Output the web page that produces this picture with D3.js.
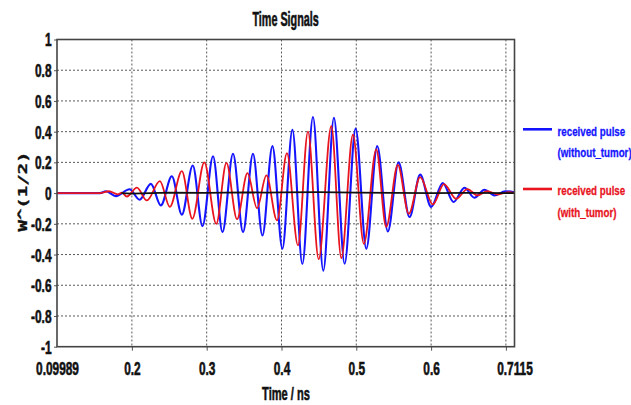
<!doctype html><html><head><style>body{margin:0;background:#fff}</style></head><body><script src='https://d3js.org/d3.v7.min.js'></script>

<script>
// Dimensions
const W = 631, H = 405;
const pLeft = 57, pRight = 514.5, pTop = 39.5, pBottom = 346.7;

// tick labels
const xLabels = [0.09989, 0.2, 0.3, 0.4, 0.5, 0.6, 0.7115];
const xGrid   = [0.2, 0.3, 0.4, 0.5, 0.6, 0.7];
const yTicks  = [-1, -0.8, -0.6, -0.4, -0.2, 0, 0.2, 0.4, 0.6, 0.8, 1];
const yGrid   = [-0.8, -0.6, -0.4, -0.2, 0.2, 0.4, 0.6, 0.8];

// received pulse without tumor (extrema)
const blue = [
  [0.0999,0],[0.1573,0],[0.1652,0.012],[0.1786,-0.02],[0.1969,0.025],[0.2103,-0.043],
  [0.2254,0.06],[0.2387,-0.08],[0.2534,0.11],[0.2668,-0.14],[0.2814,0.18],[0.2944,-0.215],
  [0.3085,0.24],[0.3211,-0.254],[0.3352,0.256],[0.3486,-0.254],[0.3619,0.256],[0.3745,-0.276],
  [0.3879,0.306],[0.4012,-0.362],[0.4146,0.412],[0.4279,-0.462],[0.4421,0.495],[0.4559,-0.505],
  [0.4701,0.49],[0.4844,-0.46],[0.4991,0.42],[0.5134,-0.362],[0.5280,0.306],[0.5422,-0.25],
  [0.5565,0.20],[0.5712,-0.156],[0.5854,0.12],[0.6001,-0.09],[0.6156,0.066],[0.6299,-0.058],
  [0.6446,0.035],[0.6579,-0.03],[0.6713,0.022],[0.6846,-0.015],[0.6993,0.012],[0.7115,0.005]
];

// received pulse with tumor
const red = [
  [0.0999,0],[0.1573,0],[0.1693,0.012],[0.1813,-0.008],[0.1866,0.003],[0.1933,-0.022],
  [0.2067,0.035],[0.2200,-0.048],[0.2374,0.078],[0.2507,-0.09],[0.2668,0.143],[0.2808,-0.167],
  [0.2968,0.2],[0.3128,-0.2],[0.3264,0.197],[0.3406,-0.17],[0.3545,0.13],[0.3673,-0.098],
  [0.3798,0.115],[0.3940,-0.178],[0.4073,0.26],[0.4220,-0.34],[0.4354,0.40],[0.4497,-0.43],
  [0.4666,0.436],[0.4800,-0.423],[0.4955,0.38],[0.5101,-0.33],[0.5267,0.284],[0.5400,-0.22],
  [0.5555,0.184],[0.5702,-0.135],[0.5854,0.104],[0.6023,-0.074],[0.6172,0.058],[0.6335,-0.037],
  [0.6486,0.026],[0.6619,-0.015],[0.6753,0.013],[0.6887,-0.009],[0.7047,0.007],[0.7115,0.002]
];

// difference signal
const diff = [
  [0.186,0],[0.2,-0.003],[0.25,0.003],[0.3,0.002],[0.35,0.005],[0.38,0.003],
  [0.4,0.005],[0.45,0.006],[0.5,0.003],[0.55,0.002],[0.6,0],[0.65,0.002],[0.7115,0]
];

const legendItems = [
  {lines: ["received pulse", "(without_tumor)"], color: "#1414ff"},
  {lines: ["received pulse", "(with_tumor)"],    color: "#e8141e"}
];

const svg = d3.select("body").append("svg")
  .attr("width", W).attr("height", H)
  .style("font-family", "'Liberation Sans', Arial, sans-serif")
  .style("font-weight", "bold");

const x = d3.scaleLinear().domain([0.09989, 0.7115]).range([pLeft, pRight]);
const y = d3.scaleLinear().domain([-1, 1]).range([pBottom, pTop]);

// grid
svg.append("g").selectAll("line").data(xGrid).join("line")
   .attr("x1", d => x(d)).attr("x2", d => x(d))
   .attr("y1", pTop).attr("y2", pBottom)
   .attr("stroke", "#5a5a5a").attr("stroke-dasharray", "2,2");
svg.append("g").selectAll("line").data(yGrid).join("line")
   .attr("x1", pLeft).attr("x2", pRight)
   .attr("y1", d => y(d)).attr("y2", d => y(d))
   .attr("stroke", "#5a5a5a").attr("stroke-dasharray", "2,2");

// tick marks
svg.append("g").attr("transform", `translate(0,${pBottom})`)
   .call(d3.axisBottom(x).tickValues(xGrid).tickFormat("").tickSize(4))
   .call(g => g.select(".domain").remove())
   .selectAll("line").attr("stroke", "#555");
svg.append("g").attr("transform", `translate(${pLeft},0)`)
   .call(d3.axisLeft(y).tickValues(yTicks).tickFormat("").tickSize(3))
   .call(g => g.select(".domain").remove())
   .selectAll("line").attr("stroke", "#555");

// x labels
const xa = svg.append("g").attr("transform", `translate(0,${pBottom})`)
   .call(d3.axisBottom(x).tickValues(xLabels).tickFormat(d => String(d)).tickSize(0));
xa.select(".domain").remove();
xa.selectAll("text")
  .attr("y", 28.5).attr("dy", null)
  .attr("transform", "scale(0.66,1)")
  .attr("font-size", 18).attr("font-family", null).attr("fill", "#111")
  .attr("stroke", "#111").attr("stroke-width", 0.6);

// y labels
const ya = svg.append("g").attr("transform", `translate(${pLeft},0)`)
   .call(d3.axisLeft(y).tickValues(yTicks).tickFormat(d => String(+d.toFixed(1))).tickSize(0));
ya.select(".domain").remove();
ya.selectAll("text")
  .attr("x", -5.5 / 0.66).attr("dy", "0.36em")
  .attr("transform", "scale(0.66,1)")
  .attr("font-size", 18).attr("font-family", null).attr("fill", "#111")
  .attr("stroke", "#111").attr("stroke-width", 0.6);

// curves
const line = d3.line().x(d => x(d[0])).y(d => y(d[1])).curve(d3.curveMonotoneX);
svg.append("path").datum(blue).attr("fill", "none")
   .attr("stroke", "#1414ff").attr("stroke-width", 2.1).attr("d", line);
svg.append("path").datum(red).attr("fill", "none")
   .attr("stroke", "#e8141e").attr("stroke-width", 1.8).attr("d", line);
svg.append("path").datum(diff).attr("fill", "none")
   .attr("stroke", "#111").attr("stroke-width", 1.8)
   .attr("d", d3.line().x(d => x(d[0])).y(d => y(d[1])));

// frame
svg.append("rect").attr("x", pLeft).attr("y", pTop)
   .attr("width", pRight - pLeft).attr("height", pBottom - pTop)
   .attr("fill", "none").attr("stroke", "#444").attr("stroke-width", 1.6);

// title and axis titles
svg.append("text").attr("transform", "translate(285.6,26) scale(0.54,1)")
   .attr("text-anchor", "middle").attr("font-size", 20).attr("fill", "#111")
   .attr("stroke", "#111").attr("stroke-width", 0.6)
   .text("Time Signals");
svg.append("text").attr("transform", "translate(286,399.5) scale(0.6,1)")
   .attr("text-anchor", "middle").attr("font-size", 18.5).attr("fill", "#111")
   .attr("stroke", "#111").attr("stroke-width", 0.6)
   .text("Time / ns");
svg.append("text").attr("transform", "translate(27,191.5) rotate(-90) scale(1,0.62)")
   .attr("text-anchor", "middle").attr("font-size", 19)
   .attr("font-family", "'DejaVu Sans Mono', monospace").attr("fill", "#111")
   .attr("stroke", "#111").attr("stroke-width", 0.5)
   .text("W^(1/2)");

// legend
const lg = svg.append("g").selectAll("g").data(legendItems).join("g")
   .attr("transform", (d, i) => `translate(523,${129.3 + i * 59.7})`);
lg.append("line").attr("x1", 0).attr("x2", 29)
  .attr("stroke", d => d.color).attr("stroke-width", 2.6);
lg.each(function(d) {
  d3.select(this).selectAll("text").data(d.lines).join("text")
    .attr("transform", (t, j) => `translate(34.5,${6.3 + j * 21.2}) scale(0.75,1)`)
    .attr("font-size", 13).attr("fill", d.color)
    .attr("stroke", d.color).attr("stroke-width", 0.3)
    .text(t => t);
});
</script></body></html>
